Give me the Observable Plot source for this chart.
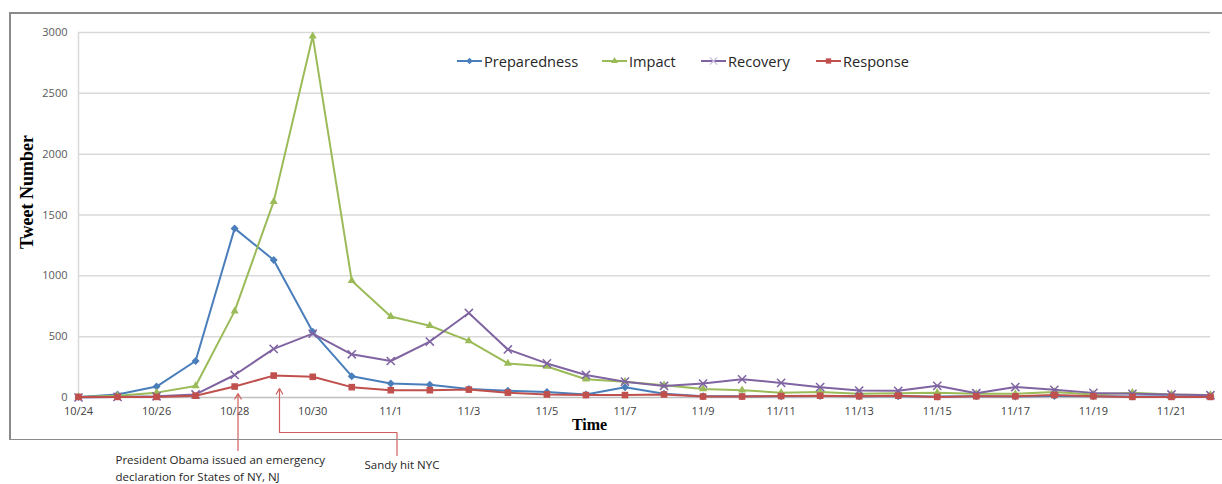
<!DOCTYPE html>
<html>
<head>
<meta charset="utf-8">
<script src="https://cdn.jsdelivr.net/npm/d3@7"></script>
<script src="https://cdn.jsdelivr.net/npm/@observablehq/plot@0.6"></script>
<style>
  html, body { margin: 0; padding: 0; background: #fff; overflow: hidden; }
  #wrap { position: relative; width: 1222px; height: 484px; overflow: hidden; }
  #wrap > svg { position: absolute; left: 0; top: 0; }
  .bline { position: absolute; background: #8a8a8a; pointer-events: none; }
  #legend { position: absolute; top: 52px; left: 0; width: 1222px; height: 20px;
            font-family: "Open Sans", sans-serif; font-size: 14.6px; color: #262626; }
  #legend .item { position: absolute; top: 0; display: flex; align-items: center; gap: 2px; height: 18px; white-space: nowrap; }
  #legend svg { display: block; }
</style>
</head>
<body>
<div id="wrap">
  <div class="bline" style="left:9px;top:12px;width:1213px;height:1.5px"></div>
  <div class="bline" style="left:9px;top:438.5px;width:1213px;height:1.5px"></div>
  <div class="bline" style="left:9px;top:12px;width:1.5px;height:428px"></div>
  <div id="legend"></div>
</div>
<script>
const days = ["10/24","10/25","10/26","10/27","10/28","10/29","10/30","10/31",
  "11/1","11/2","11/3","11/4","11/5","11/6","11/7","11/8","11/9","11/10","11/11",
  "11/12","11/13","11/14","11/15","11/16","11/17","11/18","11/19","11/20","11/21","11/22"];
const seriesNames = ["Preparedness","Impact","Recovery","Response"];
const seriesColors = ["#4a7ebb","#9bbb59","#8064a2","#c0504d"];
const preparedness = [5,25,90,300,1390,1130,540,175,115,105,70,55,45,25,85,30,10,10,10,12,10,10,8,10,8,12,10,8,10,8];
const impact = [5,15,40,95,710,1610,2970,960,665,590,465,280,255,150,130,100,70,60,40,45,30,35,40,30,30,45,25,40,25,20];
const recovery = [0,5,10,25,185,400,525,355,300,460,695,395,280,185,130,95,115,150,120,85,57,55,96,35,86,63,38,30,25,19];
const response = [5,5,5,15,90,180,170,85,60,60,65,40,25,20,20,25,8,8,12,15,10,15,5,10,10,20,10,5,5,5];
const yTicks = [0,500,1000,1500,2000,2500,3000];
const xTickIdx = d3.range(0, 30, 2);
const annotations = [
  {lines: ["President Obama issued an emergency", "declaration for States of NY, NJ"]},
  {lines: ["Sandy hit NYC"]}
];

const values = [preparedness, impact, recovery, response];
const rows = seriesNames.flatMap((s, k) => values[k].map((v, i) => ({series: s, i, value: v})));
const symbols = ["diamond2","triangle2","times","square2"];
const sizes = [3.6, 3.9, 3.8, 4.2];

// y value for a pixel position below the frame (annotation positions)
const frameTop = 32, frameBottom = 397;
const yAt = p => (frameBottom - p) / (frameBottom - frameTop) * 3000;
const xAt = p => (p - 78) / (1210 - 78) * 29;

const marks = [
  Plot.gridY(yTicks.filter(d => d > 0), {stroke: "#d9d9d9", strokeOpacity: 1, strokeWidth: 1.5}),
  Plot.ruleX([0], {stroke: "#d9d9d9", strokeWidth: 1.5}),
  Plot.ruleY([0], {stroke: "#bfbfbf", strokeWidth: 1.5}),
  Plot.axisY(yTicks, {tickSize: 0, tickPadding: 11, label: null, fontSize: 11, fill: "#595959",
    fontFamily: "Open Sans", tickFormat: d => String(d)}),
  Plot.axisX(xTickIdx, {tickSize: 0, tickPadding: 10, label: null, tickFormat: i => days[i],
    fontSize: 11, fill: "#404040", fontFamily: "Open Sans"}),
  Plot.text(["Tweet Number"], {frameAnchor: "left", textAnchor: "middle", dx: -51, dy: -23, rotate: -90,
    fontFamily: "Liberation Serif", fontWeight: "bold", fontSize: 18, fill: "#000"}),
  Plot.text(["Time"], {frameAnchor: "bottom", dx: -55, dy: 32,
    fontFamily: "Liberation Serif", fontWeight: "bold", fontSize: 16, fill: "#000"}),
];

seriesNames.forEach((s, k) => {
  const d = rows.filter(r => r.series === s);
  marks.push(Plot.line(d, {x: "i", y: "value", stroke: seriesColors[k], strokeWidth: 2}));
  if (symbols[k] === "times") {
    marks.push(Plot.dot(d, {x: "i", y: "value", symbol: "times", r: sizes[k], stroke: seriesColors[k], strokeWidth: 1.5}));
  } else {
    marks.push(Plot.dot(d, {x: "i", y: "value", symbol: symbols[k], r: sizes[k], fill: seriesColors[k], stroke: "none"}));
  }
});

// annotations
const ac = "#d0605d";
marks.push(
  Plot.arrow([0], {x1: xAt(237.5), y1: yAt(450), x2: xAt(237.5), y2: yAt(393), stroke: ac, strokeWidth: 1.2, headLength: 8}),
  Plot.line([[xAt(396.5), yAt(455)], [xAt(396.5), yAt(432)], [xAt(279), yAt(432)]], {stroke: ac, strokeWidth: 1.2}),
  Plot.arrow([0], {x1: xAt(279), y1: yAt(432), x2: xAt(279), y2: yAt(388), stroke: ac, strokeWidth: 1.2, headLength: 8}),
  Plot.text([annotations[0].lines.join("\n")], {x: xAt(115), y: yAt(466.5), textAnchor: "start", lineHeight: 1.5,
    fontFamily: "Open Sans", fontSize: 11.5, fill: "#262626"}),
  Plot.text([annotations[1].lines.join("\n")], {x: xAt(364), y: yAt(465), textAnchor: "start",
    fontFamily: "Open Sans", fontSize: 11.5, fill: "#262626"})
);

const chart = Plot.plot({
  width: 1222, height: 484,
  marginLeft: 78, marginRight: 12, marginTop: frameTop, marginBottom: 484 - frameBottom,
  x: {type: "linear", domain: [0, 29]},
  y: {domain: [0, 3000]},
  style: {background: "transparent", overflow: "visible"},
  marks
});
document.getElementById("wrap").prepend(chart);

// legend (items placed like the reference's inline legend)
const legendLeft = [457, 602, 701, 816];
const legend = d3.select("#legend");
seriesNames.forEach((s, k) => {
  const item = legend.append("div").attr("class", "item").style("left", legendLeft[k] + "px");
  const svg = item.append("svg").attr("width", 25).attr("height", 12);
  svg.append("line").attr("x1", 0).attr("x2", 25).attr("y1", 6).attr("y2", 6)
    .attr("stroke", seriesColors[k]).attr("stroke-width", 2);
  const sym = d3.symbol().type([d3.symbolDiamond2, d3.symbolTriangle2, d3.symbolTimes, d3.symbolSquare2][k])
    .size([28, 36, 36, 36][k])();
  const p = svg.append("path").attr("d", sym).attr("transform", "translate(12.5,6)");
  if (k === 2) p.attr("fill", "none").attr("stroke", "#c9bfdc").attr("stroke-width", 1.3);
  else p.attr("fill", seriesColors[k]);
  item.append("span").text(s);
});
</script>
</body>
</html>
